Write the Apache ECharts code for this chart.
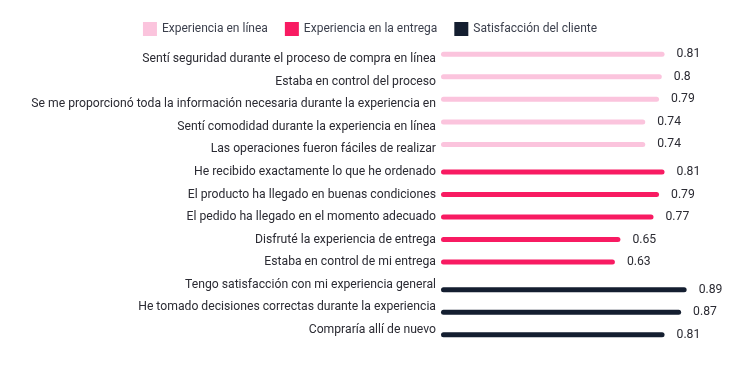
<!DOCTYPE html>
<html><head><meta charset="utf-8">
<script src="https://cdn.jsdelivr.net/npm/echarts@6/dist/echarts.min.js"></script>
<style>html,body{margin:0;padding:0;background:#fff}#c{width:740px;height:371px}</style>
</head><body><div id="c"></div>
<script>
const categories = [
  "Sentí seguridad durante el proceso de compra en línea",
  "Estaba en control del proceso",
  "Se me proporcionó toda la información necesaria durante la experiencia en",
  "Sentí comodidad durante la experiencia en línea",
  "Las operaciones fueron fáciles de realizar",
  "He recibido exactamente lo que he ordenado",
  "El producto ha llegado en buenas condiciones",
  "El pedido ha llegado en el momento adecuado",
  "Disfruté la experiencia de entrega",
  "Estaba en control de mi entrega",
  "Tengo satisfacción con mi experiencia general",
  "He tomado decisiones correctas durante la experiencia",
  "Compraría allí de nuevo"
];
const seriesNames = ["Experiencia en línea", "Experiencia en la entrega", "Satisfacción del cliente"];
const onlineValues   = [0.81, 0.8, 0.79, 0.74, 0.74, null, null, null, null, null, null, null, null];
const deliveryValues = [null, null, null, null, null, 0.81, 0.79, 0.77, 0.65, 0.63, null, null, null];
const satisfValues   = [null, null, null, null, null, null, null, null, null, null, 0.89, 0.87, 0.81];
const colors = ["#FBC4DD", "#F81B62", "#141E30"];

const font = "Roboto, 'Noto Sans', sans-serif";
const allValues = [onlineValues, deliveryValues, satisfValues];
const chart = echarts.init(document.getElementById('c'), null, {renderer: 'canvas'});
chart.setOption({
  animation: false,
  textStyle: {fontFamily: font},
  legend: {
    top: 17, left: 'center', itemWidth: 14, itemHeight: 14, itemGap: 17,
    icon: 'rect',
    textStyle: {fontSize: 12, color: '#3b3f4c', fontFamily: font},
    data: seriesNames
  },
  grid: {left: 441, right: 23, top: 48, bottom: 30, containLabel: false},
  xAxis: {type: 'value', min: 0, max: 1, show: false},
  yAxis: {
    type: 'category', inverse: true, data: categories,
    axisLine: {show: false}, axisTick: {show: false}, splitLine: {show: false},
    axisLabel: {fontSize: 12.2, color: '#2b2b33', margin: 5, fontFamily: font}
  },
  series: seriesNames.map((n, i) => ({
    name: n, type: 'bar', data: allValues[i],
    barWidth: 5, barGap: '0%',
    itemStyle: {color: colors[i], borderRadius: 3},
    label: {show: true, position: 'right', distance: 12, fontSize: 12.2, color: '#2b2b33', fontFamily: font,
      formatter: p => p.value == null ? '' : String(p.value)}
  }))
});
</script></body></html>
